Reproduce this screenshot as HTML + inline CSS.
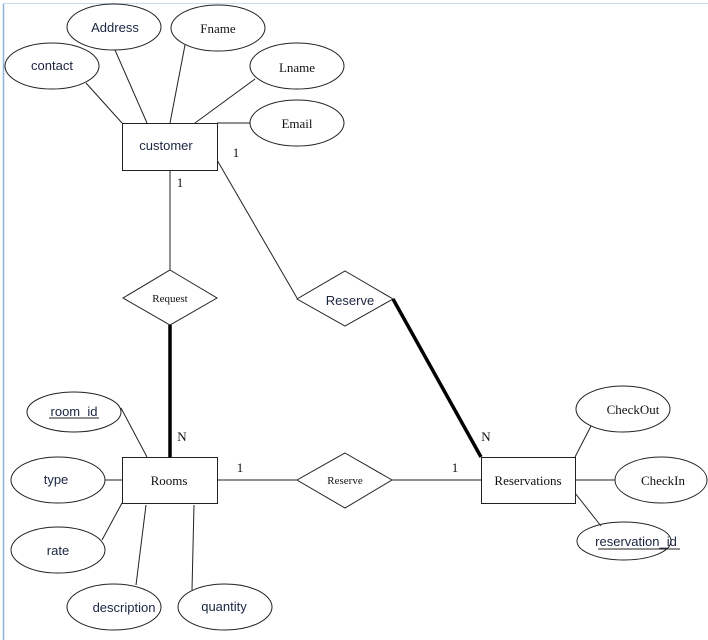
<!DOCTYPE html>
<html><head><meta charset="utf-8"><style>
html,body{margin:0;padding:0;background:#fff;}
svg{display:block;}
.s{font-family:"Liberation Sans",sans-serif;font-size:13px;fill:#1a2540;}
.r{font-family:"Liberation Serif",serif;font-size:13px;fill:#111;}
</style></head><body>
<svg width="708" height="640" viewBox="0 0 708 640" xmlns="http://www.w3.org/2000/svg">
<rect x="0" y="0" width="708" height="640" fill="#fff"/>
<line x1="3.5" y1="4" x2="3.5" y2="640" stroke="#8fb4dc" stroke-width="1.5"/>
<line x1="3" y1="3.5" x2="708" y2="3.5" stroke="#c9dbef" stroke-width="1"/>
<g stroke="#222" stroke-width="1" fill="none">
<!-- customer lines -->
<line x1="86" y1="83" x2="122" y2="123"/>
<line x1="115" y1="50" x2="147" y2="123"/>
<line x1="185" y1="45" x2="170" y2="123"/>
<line x1="255" y1="79" x2="195" y2="123"/>
<line x1="217" y1="123" x2="250" y2="123"/>
<line x1="170" y1="170" x2="170" y2="270"/>
<line x1="217" y1="160" x2="297" y2="298"/>
<!-- rooms lines -->
<line x1="121" y1="408" x2="147" y2="457"/>
<line x1="105" y1="480" x2="122" y2="480"/>
<line x1="102" y1="540" x2="122" y2="503"/>
<line x1="146" y1="505" x2="136" y2="585"/>
<line x1="194" y1="505" x2="192" y2="590"/>
<line x1="217" y1="480" x2="297" y2="480"/>
<line x1="392" y1="480" x2="481" y2="480"/>
<!-- reservations lines -->
<line x1="575" y1="457" x2="591" y2="426"/>
<line x1="575" y1="480" x2="615" y2="480"/>
<line x1="575" y1="493" x2="601" y2="526"/>
<!-- ellipses -->
<ellipse cx="52" cy="66" rx="47" ry="23"/>
<ellipse cx="114" cy="27" rx="47" ry="23"/>
<ellipse cx="218" cy="28" rx="47" ry="23"/>
<ellipse cx="297" cy="66" rx="47" ry="23"/>
<ellipse cx="297" cy="123" rx="47" ry="23"/>
<ellipse cx="74" cy="412" rx="47" ry="20"/>
<ellipse cx="58" cy="480" rx="47" ry="23"/>
<ellipse cx="58" cy="550" rx="47" ry="23"/>
<ellipse cx="114" cy="607" rx="47" ry="23"/>
<ellipse cx="225" cy="607" rx="47" ry="23"/>
<ellipse cx="623" cy="409" rx="47" ry="23"/>
<ellipse cx="661" cy="480" rx="46" ry="23"/>
<ellipse cx="624" cy="541" rx="47" ry="19"/>
<!-- rects -->
<rect x="122.5" y="123.5" width="95" height="47" fill="#fff"/>
<rect x="122.5" y="457.5" width="95" height="46" fill="#fff"/>
<rect x="481.5" y="457.5" width="94" height="46" fill="#fff"/>
<!-- diamonds -->
<polygon points="170,270 217,298 170,325 123,298" fill="#fff"/>
<polygon points="345,271 393,299 345,326 297,299" fill="#fff"/>
<polygon points="345,453 392,480 345,508 297,480" fill="#fff"/>
</g>
<g stroke="#000" stroke-width="3.5">
<line x1="170" y1="325" x2="170" y2="457"/>
<line x1="393" y1="299" x2="481" y2="457"/>
</g>
<g text-anchor="middle">
<text class="s" x="52" y="70">contact</text>
<text class="s" x="115" y="32">Address</text>
<text class="r" x="218" y="33">Fname</text>
<text class="r" x="297" y="72">Lname</text>
<text class="r" x="297" y="128">Email</text>
<text class="s" x="166" y="150">customer</text>
<text class="r" x="170" y="302" style="font-size:11px">Request</text>
<text class="s" x="350" y="305">Reserve</text>
<text class="r" x="345" y="484" style="font-size:11px">Reserve</text>
<text class="r" x="169" y="485">Rooms</text>
<text class="r" x="528" y="485">Reservations</text>
<text class="s" x="74" y="416">room_id</text>
<text class="s" x="56" y="484">type</text>
<text class="s" x="58" y="555">rate</text>
<text class="s" x="124" y="612">description</text>
<text class="s" x="224" y="611">quantity</text>
<text class="r" x="633" y="414">CheckOut</text>
<text class="r" x="663" y="485">CheckIn</text>
<text class="s" x="636" y="546">reservation_id</text>
<text class="r" x="236" y="157">1</text>
<text class="r" x="180" y="187">1</text>
<text class="r" x="182" y="441">N</text>
<text class="r" x="240" y="472">1</text>
<text class="r" x="455" y="472">1</text>
<text class="r" x="486" y="441">N</text>
</g>
<g stroke="#222" stroke-width="1">
<line x1="49" y1="418" x2="99" y2="418"/>
<line x1="598" y1="549" x2="680" y2="549"/>
</g>
</svg>
</body></html>
